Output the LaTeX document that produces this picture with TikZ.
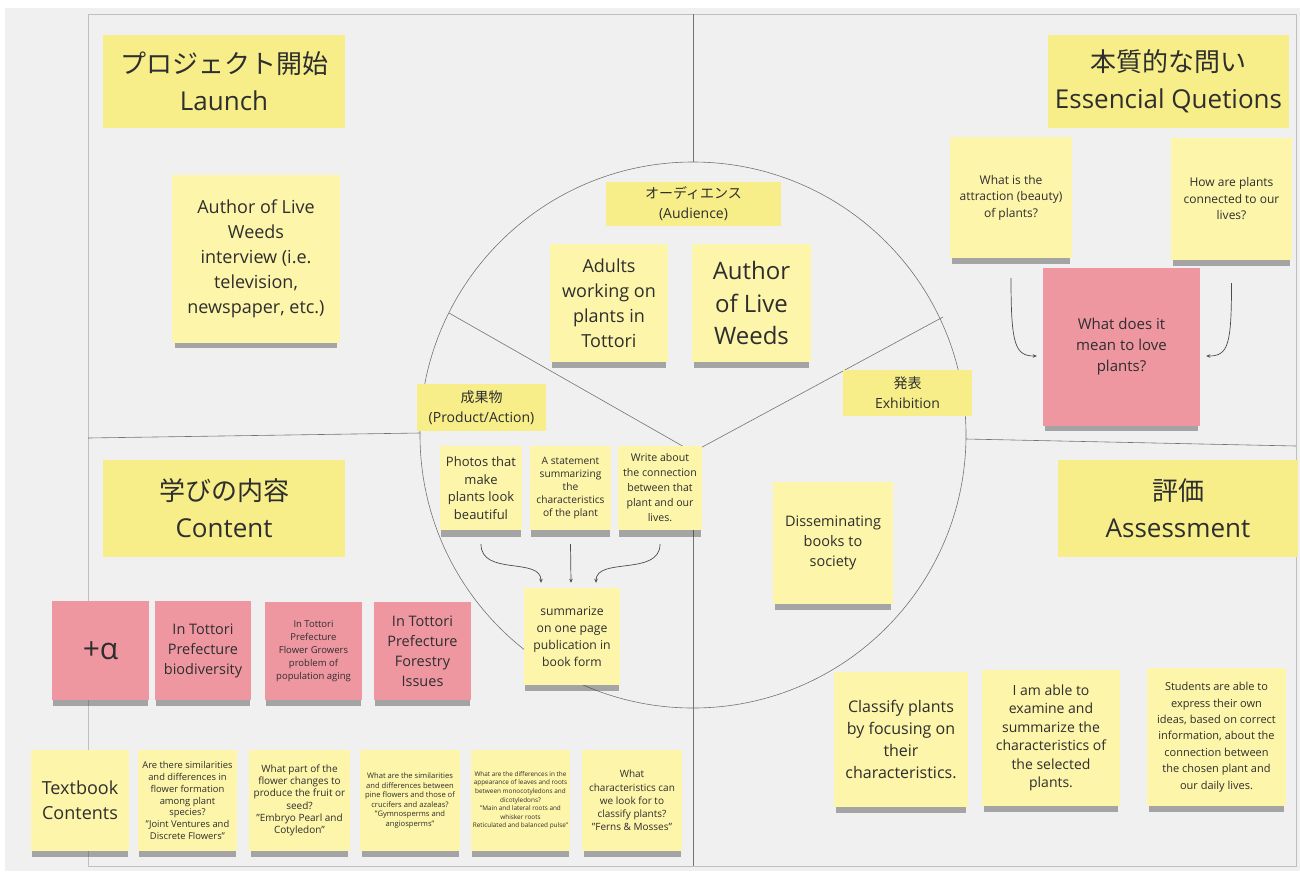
\documentclass[tikz,border=0pt]{standalone}
\usepackage{fontspec}
\setmainfont{Open Sans}
\newfontfamily\jp{Noto Sans CJK JP}
\usetikzlibrary{arrows.meta,shadows}

\definecolor{board}{HTML}{F0F0F1}
\definecolor{ink}{HTML}{2E2E2E}
\definecolor{titleyellow}{HTML}{F7EE8A}
\definecolor{noteyellow}{HTML}{FDF5A9}
\definecolor{notepink}{HTML}{EF97A1}

\begin{document}
\begin{tikzpicture}[x=1pt, y=-1pt,
    title/.style={fill=titleyellow, text=ink, align=center, inner sep=0pt},
    note/.style={fill=noteyellow, text=ink, align=center, inner sep=0pt,
        drop shadow={shadow xshift=0pt, shadow yshift=-8pt,
            shadow scale=0.97, opacity=0.4, fill=black!80}},
    pinknote/.style={note, fill=notepink},
    notesize/.style 2 args={minimum width=#1pt, minimum height=#2pt},
    fs/.style 2 args={font=\fontsize{#1}{#2}\selectfont},
    rule/.style={draw=black!55, line width=0.6pt},
    flow/.style={draw=black!70, line width=0.7pt,
        -{Stealth[length=4pt, width=3.5pt]}}
]
    % board
    \useasboundingbox (0,0) rectangle (1300,871);
    \fill[white] (0,0) rectangle (1300,871);
    \fill[board] (5,8) rectangle (1300,871);
    \draw[black!25, line width=0.6pt] (88,14) rectangle (1296,866);

    % circle and quadrant lines
    \coordinate (ctr) at (693,435);
    \coordinate (hub) at (693,452);
    \draw[rule] (ctr) circle[radius=273pt];
    \draw[rule] (693,14) -- (693,162);
    \draw[rule] (hub) -- (693,866);
    \draw[rule] (hub) -- (449,313);
    \draw[rule] (hub) -- (943,317);
    \draw[rule] (88,438) -- (420,433);
    \draw[rule] (966,439) -- (1296,446);

    % section titles
    \node[title, notesize={242}{93}, fs={26}{37}] (launchT) at (224,81.5)
        {{\jp プロジェクト開始}\\Launch};
    \node[title, notesize={241}{93}, fs={26}{37}] (questT) at (1168.5,81.5)
        {{\jp 本質的な問い}\\Essencial Quetions};
    \node[title, notesize={242}{97}, fs={26}{37}] (contentT) at (224,508.5)
        {{\jp 学びの内容}\\Content};
    \node[title, notesize={240}{97}, fs={26}{37}] (assessT) at (1178,508.5)
        {{\jp 評価}\\Assessment};

    % launch
    \node[note, notesize={168}{168}, fs={18}{25}] (launchN) at (256,259)
        {Author of Live\\Weeds\\interview (i.e.\\television,\\newspaper, etc.)};

    % circle labels
    \node[title, notesize={175}{44}, fs={14}{20}] (audL) at (693.5,204)
        {{\jp オーディエンス}\\(Audience)};
    \node[title, notesize={129}{47}, fs={14}{20}] (prodL) at (481.5,407.5)
        {{\jp 成果物}\\(Product/Action)};
    \node[title, notesize={129}{46}, fs={14}{20}] (exhL) at (907.5,393)
        {{\jp 発表}\\Exhibition};

    % audience
    \node[note, notesize={118}{118}, fs={18}{25}] (adultsN) at (609,303)
        {Adults\\working on\\plants in\\Tottori};
    \node[note, notesize={119}{118}, fs={24}{32.5}] (authorN) at (751.5,303)
        {Author\\of Live\\Weeds};

    % product
    \node[note, notesize={82}{84}, fs={13}{17.7}] (photosN) at (481,488)
        {Photos that\\make\\plants look\\beautiful};
    \node[note, notesize={81}{84}, fs={10.2}{13}] (stateN) at (570.5,488)
        {A statement\\summarizing\\the\\characteristics\\of the plant};
    \node[note, notesize={84}{84}, fs={10.6}{15}] (writeN) at (660,488)
        {Write about\\the connection\\between that\\plant and our\\lives.};
    \node[note, notesize={96}{97}, fs={12.2}{17}] (summN) at (572,636.5)
        {summarize\\on one page\\publication in\\book form};
    \draw[flow] ([yshift=-14pt]photosN.south)
        .. controls +(0,32) and +(0,-26) .. ([xshift=-31pt,yshift=5pt]summN.north);
    \draw[flow] ([yshift=-14pt]stateN.south) -- ([xshift=-1pt,yshift=5pt]summN.north);
    \draw[flow] ([yshift=-14pt]writeN.south)
        .. controls +(0,32) and +(0,-26) .. ([xshift=24pt,yshift=5pt]summN.north);

    % exhibition
    \node[note, notesize={120}{122}, fs={14.5}{20}] (dissemN) at (833,543)
        {Disseminating\\books to\\society};

    % essential questions
    \node[note, notesize={122}{121}, fs={12}{16.5}] (attrN) at (1011,197.5)
        {What is the\\attraction (beauty)\\of plants?};
    \node[note, notesize={121}{122}, fs={12}{16.5}] (howN) at (1231.5,199)
        {How are plants\\connected to our\\lives?};
    \node[pinknote, notesize={157}{158}, fs={15}{21}] (loveN) at (1121.5,347)
        {What does it\\mean to love\\plants?};
    \draw[flow] ([yshift=-20pt]attrN.south)
        .. controls +(0,66) and +(-22,0) .. ([xshift=-6pt,yshift=-9pt]loveN.west);
    \draw[flow] ([yshift=-23pt]howN.south)
        .. controls +(0,62) and +(22,0) .. ([xshift=6pt,yshift=-9pt]loveN.east);

    % content
    \node[pinknote, notesize={97}{99}, fs={30}{36}] (alphaN) at (100.5,650.5) {+α};
    \node[pinknote, notesize={96}{99}, fs={14.5}{20}] (bioN) at (203,650.5)
        {In Tottori\\Prefecture\\biodiversity};
    \node[pinknote, notesize={97}{98}, fs={9.5}{13}] (growN) at (313.5,651)
        {In Tottori\\Prefecture\\Flower Growers\\problem of\\population aging};
    \node[pinknote, notesize={97}{98}, fs={14.5}{20}] (forestN) at (422.5,651)
        {In Tottori\\Prefecture\\Forestry\\Issues};

    \node[note, notesize={98}{101}, fs={18}{25}] (textbookN) at (80,800.5)
        {Textbook\\Contents};
    \node[note, notesize={99}{101}, fs={9.4}{11.8}] (simN) at (187.5,800.5)
        {Are there similarities\\and differences in\\flower formation\\among plant\\species?\\"Joint Ventures and\\Discrete Flowers"};
    \node[note, notesize={101}{101}, fs={10}{12.3}] (partN) at (299.5,800.5)
        {What part of the\\flower changes to\\produce the fruit or\\seed?\\"Embryo Pearl and\\Cotyledon"};
    \node[note, notesize={100}{101}, fs={7.6}{9.5}] (pineN) at (410,800.5)
        {What are the similarities\\and differences between\\pine flowers and those of\\crucifers and azaleas?\\"Gymnosperms and\\angiosperms"};
    \node[note, notesize={99}{101}, fs={6.4}{8.6}] (monoN) at (520.5,800.5)
        {What are the differences in the\\appearance of leaves and roots\\between monocotyledons and\\dicotyledons?\\"Main and lateral roots and\\whisker roots\\Reticulated and balanced pulse"};
    \node[note, notesize={100}{101}, fs={10}{13.2}] (charN) at (632,800.5)
        {What\\characteristics can\\we look for to\\classify plants?\\"Ferns \& Mosses"};

    % assessment
    \node[note, notesize={134}{135}, fs={16}{21.7}] (classN) at (901,739.5)
        {Classify plants\\by focusing on\\their\\characteristics.};
    \node[note, notesize={138}{136}, fs={14}{18.5}] (ableN) at (1051,738)
        {I am able to\\examine and\\summarize the\\characteristics of\\the selected\\plants.};
    \node[note, notesize={139}{138}, fs={11}{16.4}] (studN) at (1216.5,737)
        {Students are able to\\express their own\\ideas, based on correct\\information, about the\\connection between\\the chosen plant and\\our daily lives.};
\end{tikzpicture}
\end{document}
